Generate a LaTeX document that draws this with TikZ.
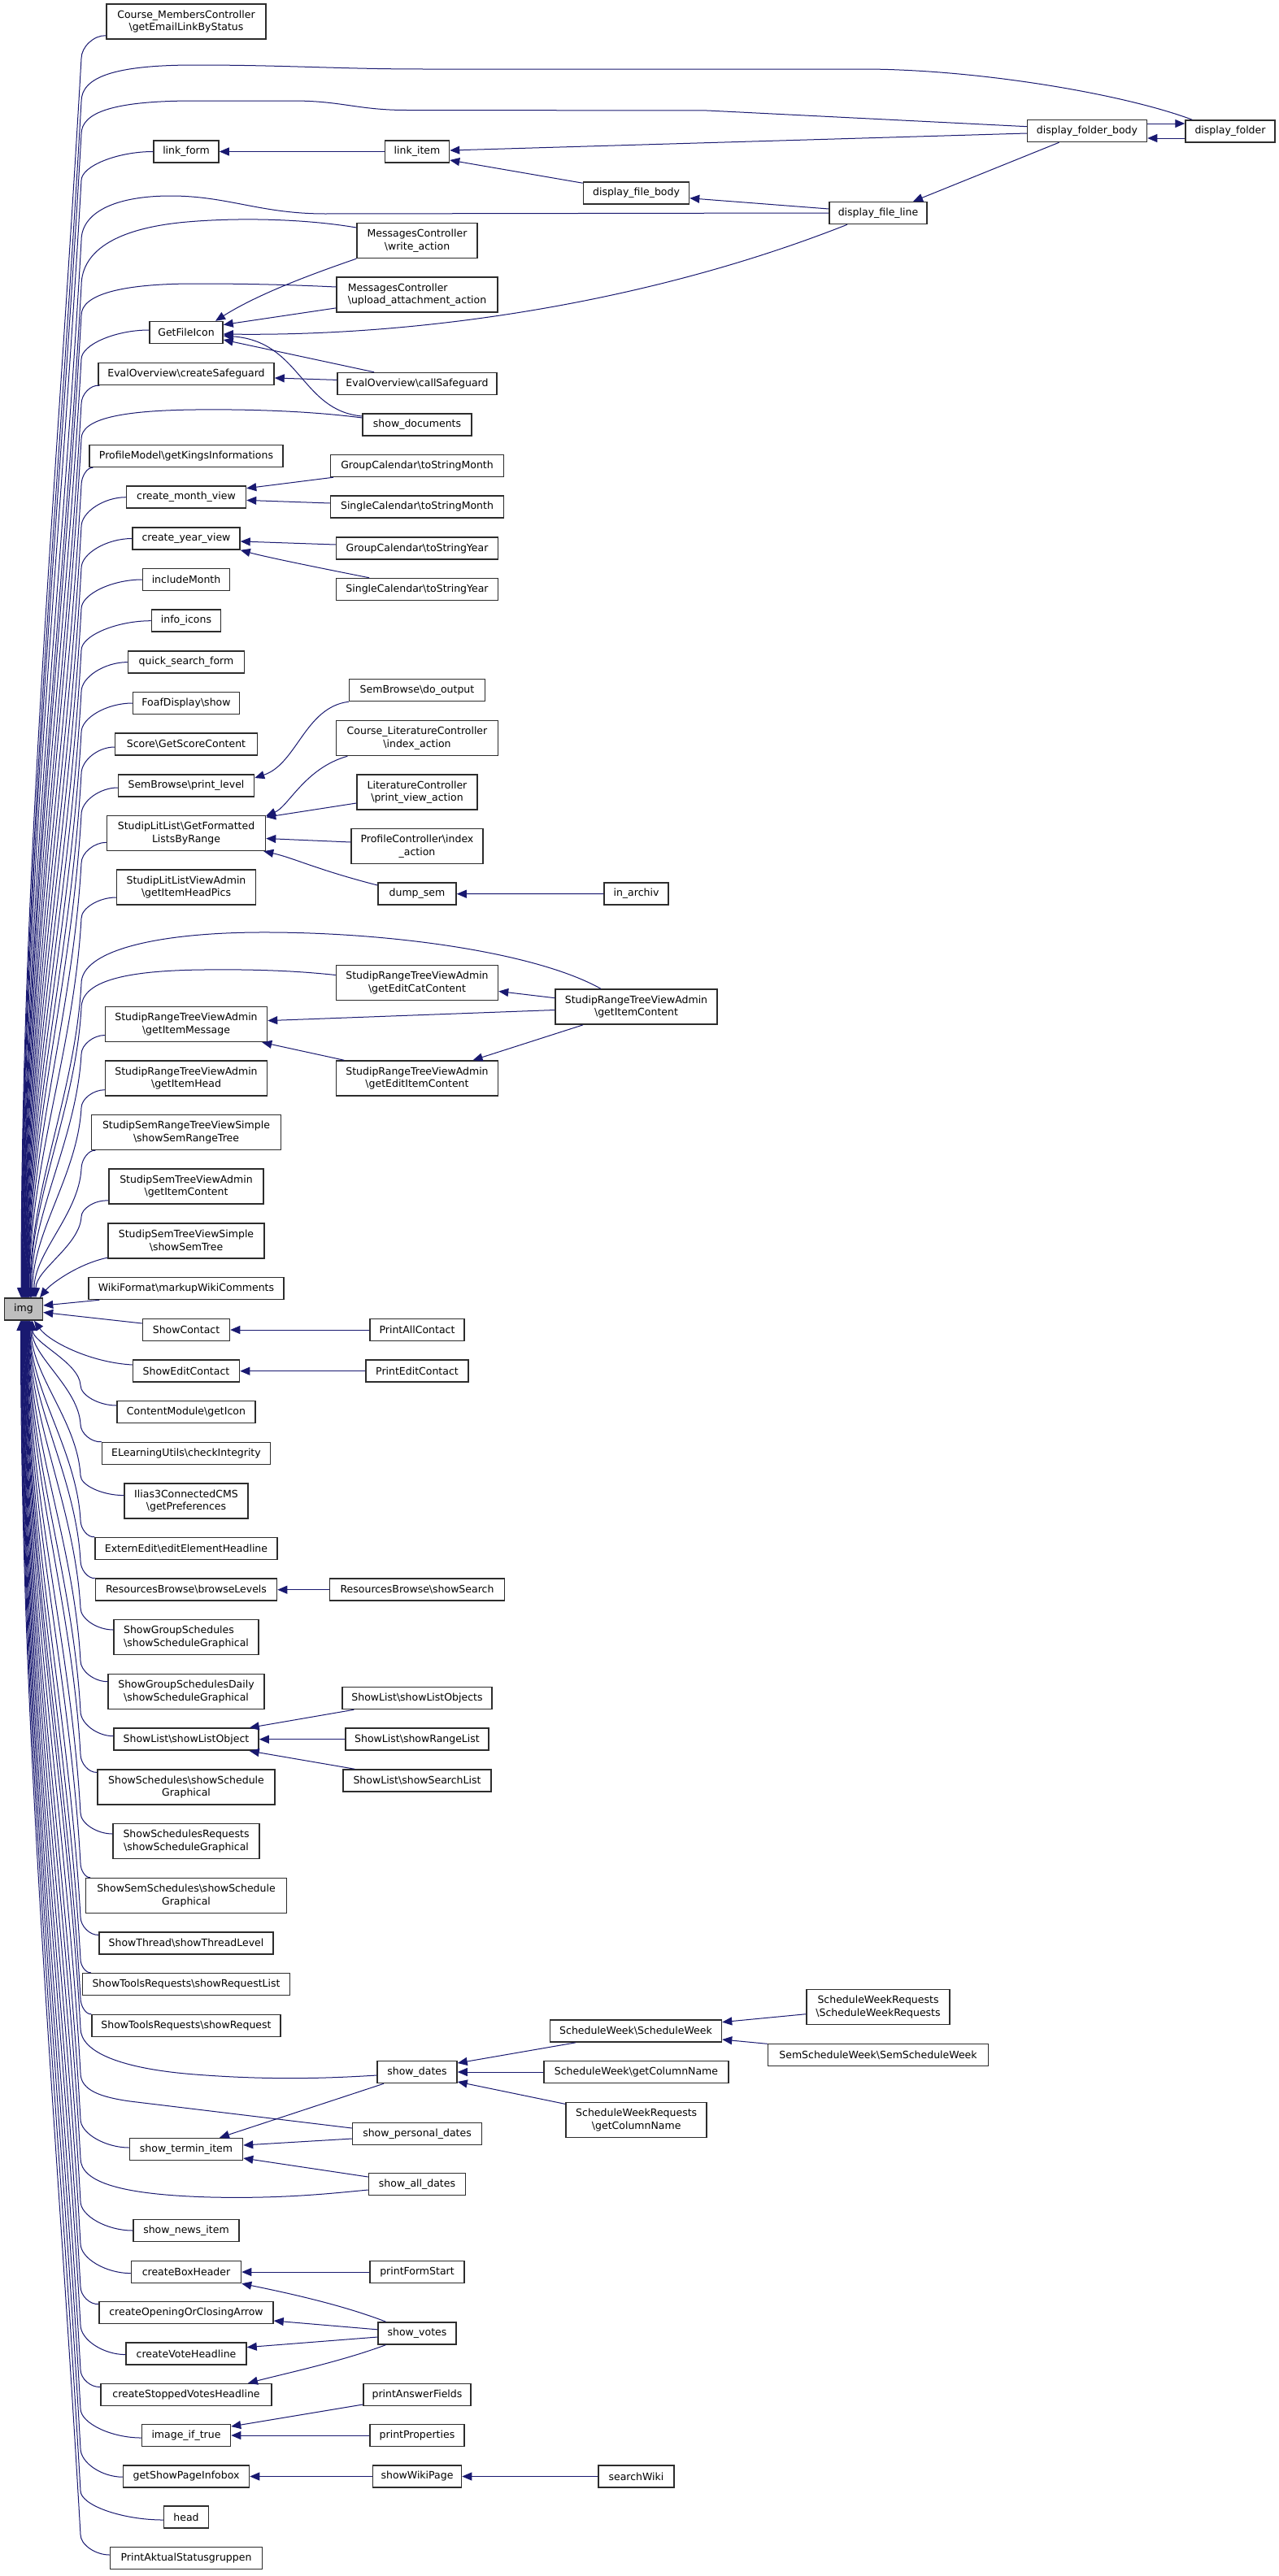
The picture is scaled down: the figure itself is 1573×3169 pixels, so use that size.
\documentclass[tikz,border=0pt]{standalone}
\usepackage{fontspec}
\setmainfont{DejaVu Sans}
\usetikzlibrary{arrows.meta,calc}
\definecolor{ecol}{RGB}{25,25,112}
\definecolor{nline}{RGB}{45,45,45}
\definecolor{imgfill}{RGB}{191,191,191}
\def\bsx{\textbackslash}
\newcommand\UpEdge[5]{%
 \pgfmathsetmacro\qdd{1597-#4}%
 \pgfmathsetmacro\qya{#4+0.35*\qdd}%
 \pgfmathsetmacro\qyc{1597-0.35*\qdd}%
 \pgfmathsetmacro\qxa{100-0.02*\qdd}%
 \pgfmathsetmacro\qyq{#4-0.5*(#4-#3)}%
 \pgfmathsetmacro\qxm{(#2+100)/2}%
 \pgfmathsetmacro\qxs{#5-29}%
 \draw[edge] ([xshift=\qxs pt]img.north) .. controls (#5,\qyc) and (\qxa,\qya) .. (100,#4) .. controls (100,\qyq) and (\qxm,#3) .. #1;%
}
\newcommand\DnEdge[5]{%
 \pgfmathsetmacro\qdd{#4-1624}%
 \pgfmathsetmacro\qya{#4-0.35*\qdd}%
 \pgfmathsetmacro\qyc{1624+0.35*\qdd}%
 \pgfmathsetmacro\qxa{99-0.02*\qdd}%
 \pgfmathsetmacro\qyq{#4+0.5*(#3-#4)}%
 \pgfmathsetmacro\qxm{(#2+99)/2}%
 \pgfmathsetmacro\qxs{#5-29}%
 \draw[edge] ([xshift=\qxs pt]img.south) .. controls (#5,\qyc) and (\qxa,\qya) .. (99,#4) .. controls (99,\qyq) and (\qxm,#3) .. #1;%
}
\begin{document}
\begin{tikzpicture}[x=1pt,y=-1pt,
 nb/.style={draw=nline,fill=white,line width=1.5pt,inner sep=0pt,align=center,font=\fontsize{12.5pt}{15.5pt}\selectfont},
 s1/.style={nb,minimum height=27pt},
 s2/.style={nb,minimum height=43pt},
 edge/.style={draw=ecol,line width=1pt,arrows={Triangle[length=12pt,width=10pt]-}}]
\fill[white] (0,0) rectangle (1573,3169);
\useasboundingbox (0,0) rectangle (1573,3169);
% ---------- nodes ----------
\node[s2,minimum width=196pt] (course) at (229,26.5) {Course\_MembersController\\\bsx getEmailLinkByStatus};
\node[s1,minimum width=80pt] (linkform) at (229,186.5) {link\_form};
\node[s1,minimum width=79pt] (linkitem) at (513,186.5) {link\_item};
\node[s1,minimum width=130pt] (dfbody) at (782.5,237.5) {display\_file\_body};
\node[s1,minimum width=147pt] (dfolderbody) at (1337,161) {display\_folder\_body};
\node[s1,minimum width=110pt] (dfolder) at (1513,161.5) {display\_folder};
\node[s1,minimum width=120pt] (dfileline) at (1080,262) {display\_file\_line};
\node[s2,minimum width=148pt] (writeact) at (513,296) {MessagesController\\\bsx write\_action};
\node[s2,minimum width=198pt,align=left] (upload) at (513,362.5) {MessagesController\\\bsx upload\_attachment\_action};
\node[s1,minimum width=90pt] (getfileicon) at (229,409) {GetFileIcon};
\node[s1,minimum width=216pt] (createsafe) at (229,460) {EvalOverview\bsx createSafeguard};
\node[s1,minimum width=196pt] (callsafe) at (513,472) {EvalOverview\bsx callSafeguard};
\node[s1,minimum width=134pt] (showdocs) at (513,522.5) {show\_documents};
\node[s1,minimum width=238pt] (profilemodel) at (229,561) {ProfileModel\bsx getKingsInformations};
\node[s1,minimum width=213pt] (gctsm) at (513,573) {GroupCalendar\bsx toStringMonth};
\node[s1,minimum width=147pt] (cmv) at (229,611.7) {create\_month\_view};
\node[s1,minimum width=213pt] (sctsm) at (513,623.5) {SingleCalendar\bsx toStringMonth};
\node[s1,minimum width=132pt] (cyv) at (229,662.5) {create\_year\_view};
\node[s1,minimum width=199pt] (gctsy) at (513,674.6) {GroupCalendar\bsx toStringYear};
\node[s1,minimum width=199pt] (sctsy) at (513,725) {SingleCalendar\bsx toStringYear};
\node[s1,minimum width=107pt] (incmonth) at (229,713) {includeMonth};
\node[s1,minimum width=85pt] (infoicons) at (229,763.7) {info\_icons};
\node[s1,minimum width=143pt] (qsf) at (229,814.6) {quick\_search\_form};
\node[s1,minimum width=131pt] (foaf) at (229,865) {FoafDisplay\bsx show};
\node[s1,minimum width=167pt] (sbdo) at (513,849) {SemBrowse\bsx do\_output};
\node[s1,minimum width=175pt] (score) at (229,915.6) {Score\bsx GetScoreContent};
\node[s2,minimum width=199pt] (clc) at (513,908) {Course\_LiteratureController\\\bsx index\_action};
\node[s1,minimum width=167pt] (printlevel) at (229,966.6) {SemBrowse\bsx print\_level};
\node[s2,minimum width=148pt] (litctrl) at (513,974.5) {LiteratureController\\\bsx print\_view\_action};
\node[s2,minimum width=195pt] (getformatted) at (229,1025) {StudipLitList\bsx GetFormatted\\ListsByRange};
\node[s2,minimum width=162pt] (profctrl) at (513,1041) {ProfileController\bsx index\\\_action};
\node[s1,minimum width=96pt] (dumpsem) at (513,1099.7) {dump\_sem};
\node[s1,minimum width=79pt] (inarchiv) at (782.5,1099.6) {in\_archiv};
\node[s2,minimum width=171pt] (sllva) at (229,1091.7) {StudipLitListViewAdmin\\\bsx getItemHeadPics};
\node[s2,minimum width=199pt] (editcat) at (513,1209) {StudipRangeTreeViewAdmin\\\bsx getEditCatContent};
\node[s2,minimum width=199pt] (itemcontent) at (782.5,1238.6) {StudipRangeTreeViewAdmin\\\bsx getItemContent};
\node[s2,minimum width=199pt] (itemmsg) at (229,1260) {StudipRangeTreeViewAdmin\\\bsx getItemMessage};
\node[s2,minimum width=199pt] (edititem) at (513,1326.5) {StudipRangeTreeViewAdmin\\\bsx getEditItemContent};
\node[s2,minimum width=199pt] (itemhead) at (229,1326.5) {StudipRangeTreeViewAdmin\\\bsx getItemHead};
\node[s2,minimum width=233pt] (ssrtvs) at (229,1393) {StudipSemRangeTreeViewSimple\\\bsx showSemRangeTree};
\node[s2,minimum width=190pt] (sstva) at (229,1459.7) {StudipSemTreeViewAdmin\\\bsx getItemContent};
\node[s2,minimum width=192pt] (sstvs) at (229,1526.4) {StudipSemTreeViewSimple\\\bsx showSemTree};
\node[s1,minimum width=240pt] (wiki) at (229,1585) {WikiFormat\bsx markupWikiComments};
\node[s1,minimum width=47pt,fill=imgfill] (img) at (29,1610.5) {img};
\node[s1,minimum width=107pt] (showcontact) at (229,1636) {ShowContact};
\node[s1,minimum width=116pt] (printall) at (513,1636) {PrintAllContact};
\node[s1,minimum width=131pt] (showedit) at (229,1686.7) {ShowEditContact};
\node[s1,minimum width=126pt] (printedit) at (513,1686.7) {PrintEditContact};
\node[s1,minimum width=170pt] (contentmod) at (229,1737) {ContentModule\bsx getIcon};
\node[s1,minimum width=207pt] (elearn) at (229,1788) {ELearningUtils\bsx checkIntegrity};
\node[s2,minimum width=152pt] (ilias) at (229,1846.6) {Ilias3ConnectedCMS\\\bsx getPreferences};
\node[s1,minimum width=224pt] (externedit) at (229,1905) {ExternEdit\bsx editElementHeadline};
\node[s1,minimum width=223pt] (browselevels) at (229,1955.7) {ResourcesBrowse\bsx browseLevels};
\node[s1,minimum width=215pt] (showsearch) at (513,1955.7) {ResourcesBrowse\bsx showSearch};
\node[s2,minimum width=178pt,align=left] (sgs) at (229,2014) {ShowGroupSchedules\\\bsx showScheduleGraphical};
\node[s2,minimum width=192pt] (sgsd) at (229,2081) {ShowGroupSchedulesDaily\\\bsx showScheduleGraphical};
\node[s1,minimum width=184pt] (slobjects) at (513,2089) {ShowList\bsx showListObjects};
\node[s1,minimum width=178pt] (slobject) at (229,2139.7) {ShowList\bsx showListObject};
\node[s1,minimum width=176pt] (slrange) at (513,2139.7) {ShowList\bsx showRangeList};
\node[s1,minimum width=182pt] (slsearch) at (513,2190.5) {ShowList\bsx showSearchList};
\node[s2,minimum width=218pt] (ss) at (229,2198.6) {ShowSchedules\bsx showSchedule\\Graphical};
\node[s2,minimum width=180pt] (ssr) at (229,2265) {ShowSchedulesRequests\\\bsx showScheduleGraphical};
\node[s2,minimum width=247pt] (sss) at (229,2332) {ShowSemSchedules\bsx showSchedule\\Graphical};
\node[s1,minimum width=214pt] (sthread) at (229,2390.6) {ShowThread\bsx showThreadLevel};
\node[s1,minimum width=255pt] (strlist) at (229,2441) {ShowToolsRequests\bsx showRequestList};
\node[s1,minimum width=232pt] (streq) at (229,2492) {ShowToolsRequests\bsx showRequest};
\node[s1,minimum width=211pt] (swsw) at (782,2498.6) {ScheduleWeek\bsx ScheduleWeek};
\node[s1,minimum width=98pt] (showdates) at (513,2549) {show\_dates};
\node[s1,minimum width=227pt] (swgcn) at (782.5,2549) {ScheduleWeek\bsx getColumnName};
\node[s2,minimum width=173pt] (swrgcn) at (782.7,2608) {ScheduleWeekRequests\\\bsx getColumnName};
\node[s2,minimum width=176pt] (swrswr) at (1080,2469) {ScheduleWeekRequests\\\bsx ScheduleWeekRequests};
\node[s1,minimum width=271pt] (semsw) at (1080,2527.8) {SemScheduleWeek\bsx SemScheduleWeek};
\node[s1,minimum width=159pt] (showpersonal) at (513,2625) {show\_personal\_dates};
\node[s1,minimum width=139pt] (showtermin) at (229,2644) {show\_termin\_item};
\node[s1,minimum width=119pt] (showall) at (513,2687) {show\_all\_dates};
\node[s1,minimum width=130pt] (shownews) at (229,2744) {show\_news\_item};
\node[s1,minimum width=135pt] (cbh) at (229,2795) {createBoxHeader};
\node[s1,minimum width=116pt] (pfs) at (513,2795) {printFormStart};
\node[s1,minimum width=214pt] (cocarrow) at (229,2845) {createOpeningOrClosingArrow};
\node[s1,minimum width=96pt] (showvotes) at (513,2870.4) {show\_votes};
\node[s1,minimum width=148pt] (cvh) at (229,2895.6) {createVoteHeadline};
\node[s1,minimum width=210pt] (csvh) at (229,2946) {createStoppedVotesHeadline};
\node[s1,minimum width=132pt] (paf) at (513,2946) {printAnswerFields};
\node[s1,minimum width=109pt] (iit) at (229,2996) {image\_if\_true};
\node[s1,minimum width=116pt] (pprop) at (513,2996) {printProperties};
\node[s1,minimum width=155pt] (gspi) at (229,3046.5) {getShowPageInfobox};
\node[s1,minimum width=109pt] (swp) at (513,3046.5) {showWikiPage};
\node[s1,minimum width=93pt] (searchwiki) at (782.5,3046.5) {searchWiki};
\node[s1,minimum width=55pt] (head) at (229,3096.7) {head};
\node[s1,minimum width=187pt] (pasg) at (229,3147) {PrintAktualStatusgruppen};
% ---------- bundle above img ----------
\UpEdge{([yshift=5pt]course.south west)}{131}{43.2}{72}{26}
\UpEdge{(linkform.west)}{189}{186.5}{222}{27.5}
\UpEdge{([yshift=3pt]getfileicon.west)}{184}{406}{442}{29.5}
\UpEdge{([xshift=2pt]createsafe.south west)}{123}{473}{497}{30}
\UpEdge{([xshift=5pt]profilemodel.south west)}{115}{574.5}{597}{31}
\UpEdge{(cmv.west)}{155.6}{611.7}{648}{31.5}
\UpEdge{(cyv.west)}{163}{662.5}{699}{32}
\UpEdge{(incmonth.west)}{175.5}{713}{749}{32.5}
\UpEdge{(infoicons.west)}{187}{763.7}{800}{33}
\UpEdge{(qsf.west)}{157.6}{814.6}{851}{33.5}
\UpEdge{(foaf.west)}{163}{865}{901}{34}
\UpEdge{([yshift=-3.4pt]score.west)}{141}{919}{952}{34.5}
\UpEdge{([yshift=-2.4pt]printlevel.west)}{145.4}{969}{1002}{35}
\UpEdge{([yshift=-11.3pt]getformatted.west)}{131.6}{1036.3}{1062}{35.5}
\UpEdge{([yshift=-12.3pt]sllva.west)}{143.4}{1104}{1130}{36}
\UpEdge{([yshift=-13.5pt]itemmsg.west)}{129.6}{1273.5}{1297}{38.5}
\UpEdge{([yshift=-14.2pt]itemhead.west)}{129.6}{1340.7}{1363}{40}
\UpEdge{([xshift=5.5pt]ssrtvs.south west)}{118.3}{1414.4}{1438}{42}
\UpEdge{([yshift=5pt]sstva.south west)}{134}{1476}{1497}{44}
\draw[edge] ([xshift=20pt]img.north) .. controls (62,1580) and (95,1555) .. ([yshift=1.5pt]sstvs.south west);
% long edges above
\draw[edge] ([xshift=-2.5pt]img.north) .. controls (26.5,1081.8) and (70.6,640.2) .. (100,125) .. controls (100,95) and (140,80) .. (240,80) .. controls (350,80) and (420,85) .. (520,85) -- (1060,85) .. controls (1200,85) and (1380,115) .. ([xshift=9pt]dfolder.north west);
\draw[edge] ([xshift=-2pt]img.north) .. controls (27,1095.8) and (71.4,666.2) .. (100,165) .. controls (100,138) and (140,124) .. (240,124) -- (360,124) .. controls (420,124) and (440,135.5) .. (500,135.5) -- (870,136) -- ([yshift=5.3pt]dfolderbody.west);
\draw[edge] ([xshift=-1pt]img.north) .. controls (28,1141.7) and (74,751.4) .. (100,296) .. controls (100,262) and (140,241) .. (210,241) .. controls (280,241) and (320,263) .. (400,263) -- (dfileline.west);
\draw[edge] ([xshift=-0.5pt]img.north) .. controls (28.5,1161.3) and (75.1,787.8) .. (100,352) .. controls (100,305) and (150,280) .. (230,273) .. controls (300,267) and (380,270) .. ([yshift=16pt]writeact.west);
\draw[edge] (img.north) .. controls (29,1174) and (75.8,811) .. (100,388) .. controls (100,362) and (150,349) .. (240,349) .. controls (320,349) and (370,351) .. ([yshift=9.5pt]upload.west);
\draw[edge] ([xshift=1.5pt]img.north) .. controls (30.5,1227) and (78.9,910) .. (100,540) .. controls (100,515) and (150,505) .. (240,504) .. controls (330,503) and (400,508) .. ([yshift=8.5pt]showdocs.west);
\draw[edge] ([xshift=8pt]img.north) .. controls (37,1461.6) and (92.3,1345.5) .. (100,1210) .. controls (100,1170) and (190,1148) .. (316,1147) .. controls (480,1146) and (660,1172) .. ([xshift=-43.5pt]itemcontent.north);
\draw[edge] ([xshift=8.5pt]img.north) .. controls (37.5,1472) and (92.9,1365) .. (100,1240) .. controls (100,1208) and (150,1194) .. (250,1193) .. controls (330,1192) and (380,1196) .. ([yshift=9.5pt]editcat.west);
% ---------- near img ----------
\draw[edge] ([yshift=4.5pt]img.east) -- ([xshift=14pt]wiki.south west);
\draw[edge] ([yshift=-4pt]img.east) -- ([yshift=8pt]showcontact.west);
\draw[edge] ([xshift=13pt]img.south) .. controls (60,1650) and (110,1676) .. ([yshift=7.7pt]showedit.west);
% ---------- bundle below img ----------
\DnEdge{([yshift=8pt]contentmod.west)}{144}{1729}{1704}{40}
\DnEdge{(elearn.north west)}{126}{1774.6}{1752}{39}
\DnEdge{([yshift=7pt]ilias.west)}{153}{1839.6}{1815}{38}
\DnEdge{(externedit.north west)}{117}{1891.7}{1870}{37}
\DnEdge{(browselevels.north west)}{117.5}{1942.3}{1920}{36.5}
\DnEdge{([yshift=9pt]sgs.west)}{140}{2005}{1978}{36}
\DnEdge{([yshift=12.3pt]sgsd.west)}{133}{2068.7}{2043}{35.5}
\DnEdge{([yshift=4pt]slobject.west)}{140}{2135.7}{2105}{35}
\DnEdge{([yshift=-4pt]ss.north west)}{120}{2181}{2158}{34.5}
\DnEdge{([yshift=9pt]ssr.west)}{139}{2256}{2230}{34}
\DnEdge{([xshift=6.4pt]sss.north west)}{112}{2310.5}{2292}{33.5}
\DnEdge{([yshift=-4pt]sthread.north west)}{122}{2381}{2358}{33}
\DnEdge{([xshift=11pt]strlist.north west)}{113}{2427.5}{2410}{32.5}
\DnEdge{(streq.north west)}{113}{2478.5}{2458}{32}
\DnEdge{([yshift=2pt]showtermin.west)}{160}{2642}{2607}{30.5}
\DnEdge{(shownews.west)}{163.8}{2744}{2708}{29.5}
\DnEdge{([yshift=-1.6pt]cbh.west)}{161.7}{2796.6}{2760}{29}
\DnEdge{([yshift=-3.7pt]cocarrow.north west)}{122.4}{2835.4}{2813}{28.5}
\DnEdge{([yshift=-1pt]cvh.west)}{155}{2896.6}{2860}{28}
\DnEdge{([yshift=-4.6pt]csvh.north west)}{124.5}{2937.3}{2915}{27.5}
\DnEdge{([yshift=-3pt]iit.west)}{174.5}{2999}{2963}{27}
\DnEdge{([yshift=-0.7pt]gspi.west)}{151.5}{3047.2}{3012}{26.5}
\DnEdge{([yshift=-3.3pt]head.west)}{202}{3100}{3064}{26}
\DnEdge{([yshift=4pt]pasg.west)}{135.7}{3143}{3118}{25.5}
% long edges below
\draw[edge] ([xshift=2.5pt]img.south) .. controls (31.5,1929) and (81.6,2190) .. (99,2495) .. controls (99,2525) and (150,2545) .. (240,2552) .. controls (330,2559) and (400,2557) .. ([yshift=-4pt]showdates.west);
\draw[edge] ([xshift=2pt]img.south) .. controls (31,1948) and (80.5,2226) .. (99,2550) .. controls (99,2572) and (125,2580) .. (160,2585) -- ([yshift=7pt]showpersonal.west);
\draw[edge] ([xshift=1pt]img.south) .. controls (30,1985) and (78.4,2294) .. (99,2655) .. controls (99,2685) and (150,2700) .. (260,2703) .. controls (350,2705) and (410,2698) .. ([yshift=-7pt]showall.west);
% ---------- other edges ----------
\draw[edge] (linkform.east) -- (linkitem.west);
\draw[edge] ([yshift=1.5pt]linkitem.east) -- ([yshift=-3pt]dfolderbody.west);
\draw[edge] ([yshift=-10.5pt]linkitem.east) -- ([yshift=-2pt]dfbody.north west);
\draw[edge] ([yshift=-6.3pt]dfbody.east) -- ([yshift=5pt]dfileline.west);
\draw[edge] ([xshift=43pt]dfileline.north) -- ([xshift=-34.5pt]dfolderbody.south);
\draw[edge] ([yshift=9.5pt]dfolder.west) -- ([yshift=9pt]dfolderbody.east);
\draw[edge] ([yshift=-9pt]dfolderbody.east) -- ([yshift=-8.5pt]dfolder.west);
\draw[edge] ([xshift=36pt]getfileicon.north) .. controls (320,360) and (390,335) .. (writeact.south west);
\draw[edge] ([yshift=9.5pt]getfileicon.east) -- ([yshift=-16.4pt]upload.west);
\draw[edge] ([yshift=-2pt]getfileicon.east) .. controls (520,414) and (800,372) .. ([xshift=-38pt]dfileline.south);
\draw[edge] ([yshift=-9pt]getfileicon.east) -- ([xshift=-53pt]callsafe.north);
\draw[edge] ([yshift=-4pt]getfileicon.east) .. controls (370,420) and (370,505) .. ([yshift=10.5pt]showdocs.west);
\draw[edge] ([yshift=-5pt]createsafe.east) -- ([yshift=4.6pt]callsafe.west);
\draw[edge] ([yshift=11pt]cmv.east) -- ([xshift=4pt]gctsm.south west);
\draw[edge] ([yshift=-3.7pt]cmv.east) -- ([yshift=4.5pt]sctsm.west);
\draw[edge] ([yshift=-3.5pt]cyv.east) -- ([yshift=4.6pt]gctsy.west);
\draw[edge] (cyv.south east) .. controls (330,686) and (400,700) .. ([xshift=-59pt]sctsy.north);
\draw[edge] ([yshift=9.6pt]printlevel.east) .. controls (365,940) and (375,870) .. (sbdo.south west);
\draw[edge] ([yshift=-1pt]getformatted.north east) .. controls (355,992) and (375,945) .. ([xshift=14.6pt]clc.south west);
\draw[edge] ([yshift=-2.5pt]getformatted.north east) -- ([yshift=-13.5pt]litctrl.west);
\draw[edge] ([yshift=-6.5pt]getformatted.east) -- ([yshift=5pt]profctrl.west);
\draw[edge] ([xshift=-3pt]getformatted.south east) .. controls (360,1055) and (390,1070) .. ([yshift=10.7pt]dumpsem.west);
\draw[edge] (dumpsem.east) -- (inarchiv.west);
\draw[edge] ([yshift=-10.5pt]editcat.east) -- ([yshift=10.9pt]itemcontent.west);
\draw[edge] ([yshift=4.4pt]itemmsg.east) -- ([yshift=-3.9pt]itemcontent.west);
\draw[edge] ([xshift=-7pt]itemmsg.south east) -- ([xshift=10.5pt]edititem.north west);
\draw[edge] ([xshift=68.6pt]edititem.north) -- ([xshift=-65.5pt]itemcontent.south);
\draw[edge] (showcontact.east) -- (printall.west);
\draw[edge] (showedit.east) -- (printedit.west);
\draw[edge] (browselevels.east) -- (showsearch.west);
\draw[edge] ([xshift=-12pt]slobject.north east) -- ([xshift=15pt]slobjects.south west);
\draw[edge] (slobject.east) -- (slrange.west);
\draw[edge] ([xshift=-12pt]slobject.south east) -- ([xshift=15pt]slsearch.north west);
\draw[edge] ([yshift=11pt]showdates.east) -- ([xshift=32pt]swsw.south west);
\draw[edge] (showdates.east) -- (swgcn.west);
\draw[edge] ([yshift=-12pt]showdates.east) -- ([yshift=19.6pt]swrgcn.west);
\draw[edge] ([yshift=11pt]swsw.east) -- ([yshift=-8.7pt]swrswr.west);
\draw[edge] ([yshift=-10.4pt]swsw.east) -- ([yshift=13.5pt]semsw.west);
\draw[edge] ([xshift=41pt]showtermin.north) -- ([xshift=-41pt]showdates.south);
\draw[edge] ([yshift=5pt]showtermin.east) -- ([yshift=-6pt]showpersonal.west);
\draw[edge] ([yshift=-11pt]showtermin.east) -- ([yshift=9pt]showall.west);
\draw[edge] (cbh.east) -- (pfs.west);
\draw[edge] (cbh.south east) .. controls (350,2820) and (420,2835) .. ([xshift=-38.5pt]showvotes.north);
\draw[edge] ([yshift=-10pt]cocarrow.east) -- ([yshift=4.6pt]showvotes.west);
\draw[edge] ([yshift=8pt]cvh.east) -- ([yshift=-4.6pt]showvotes.west);
\draw[edge] ([xshift=76pt]csvh.north) .. controls (350,2920) and (420,2905) .. ([xshift=-38.5pt]showvotes.south);
\draw[edge] ([yshift=11pt]iit.east) -- ([yshift=-12pt]paf.west);
\draw[edge] (iit.east) -- (pprop.west);
\draw[edge] (gspi.east) -- (swp.west);
\draw[edge] (swp.east) -- (searchwiki.west);
\end{tikzpicture}
\end{document}
